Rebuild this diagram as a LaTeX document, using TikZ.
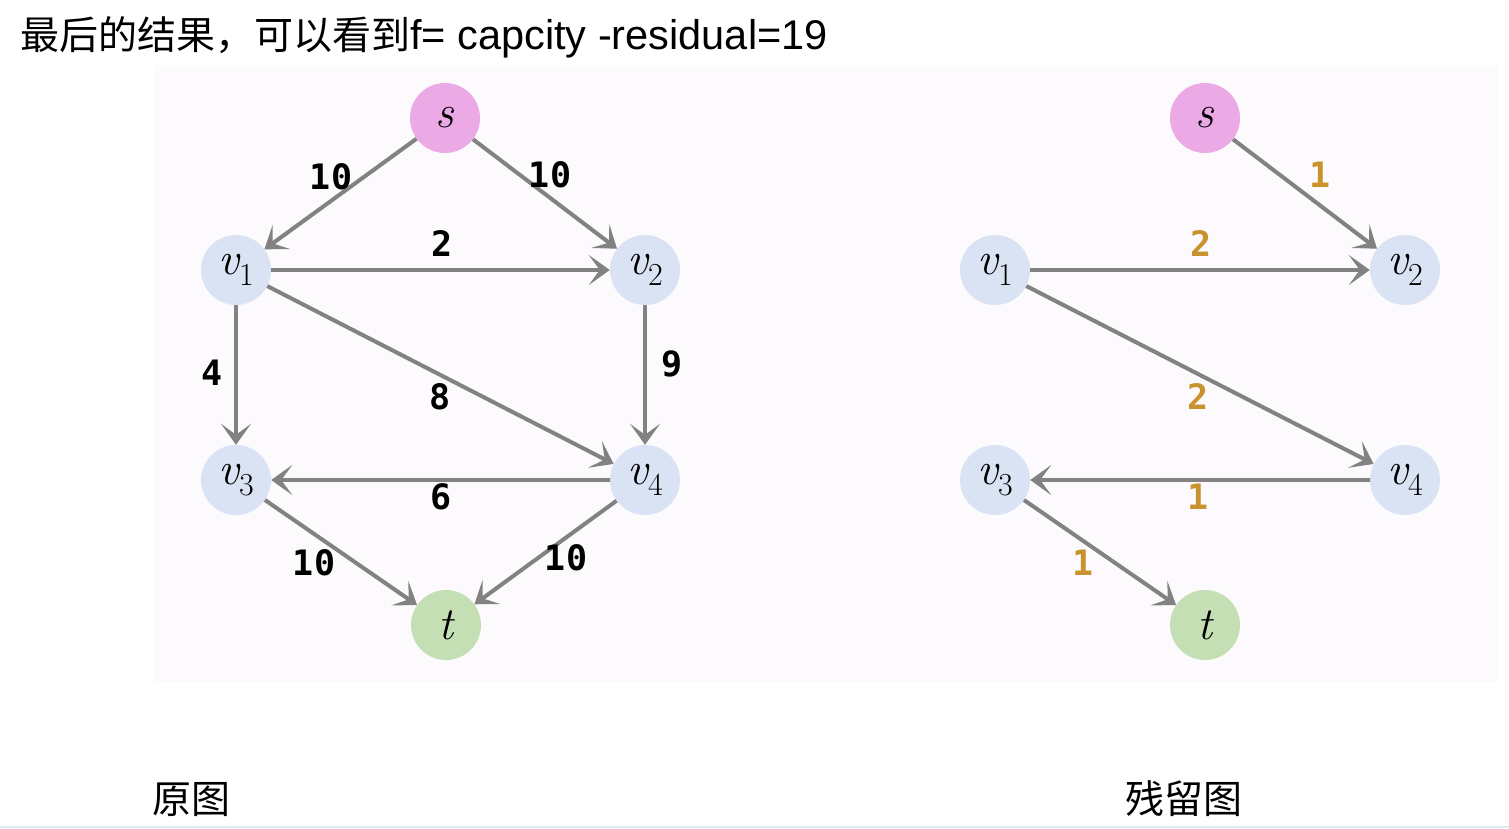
\documentclass[tikz,border=0pt]{standalone}
\usepackage{fontspec}
\setmainfont{Liberation Sans}
\newfontfamily\cjk{Noto Sans CJK SC}
\newfontfamily\labfont{DejaVu Sans Mono}
\newfontfamily\lmr{Latin Modern Roman}
\newcommand\vnode[1]{{\lmr\itshape v}\raisebox{-0.24em}{\lmr\upshape\fontsize{32}{32}\selectfont #1}}
\newcommand\inode[1]{{\lmr\itshape #1}}
\usetikzlibrary{arrows.meta}
\definecolor{spink}{HTML}{EBA9E6}
\definecolor{vblue}{HTML}{DAE3F3}
\definecolor{tgreen}{HTML}{C5DFB5}
\definecolor{egray}{HTML}{828282}
\definecolor{gold}{HTML}{C8932C}
\definecolor{panel}{HTML}{FDFAFD}
\definecolor{rule}{HTML}{E3E8F0}
\begin{document}
\begin{tikzpicture}[x=1pt,y=-1pt,
  vtx/.style={circle,minimum size=70pt,inner sep=0pt,font=\fontsize{46}{50}\selectfont},
  src/.style={vtx,fill=spink},
  mid/.style={vtx,fill=vblue},
  snk/.style={vtx,fill=tgreen},
  flow/.style={draw=egray,line width=4pt,-{Stealth[length=21pt,width=30pt,inset=11pt]}},
  caplabel/.style={font=\labfont\bfseries\fontsize{35}{40}\selectfont,text=black,inner sep=0pt},
  reslabel/.style={caplabel,text=gold},
  cjktext/.style={font=\cjk\fontsize{39}{44}\selectfont,inner sep=0pt}]
\useasboundingbox (0,0) rectangle (1509,828);
\fill[white] (0,0) rectangle (1509,828);
\fill[panel] (155,65) rectangle (1498,682);
\draw[rule,line width=2pt] (0,827) -- (1509,827);

% title
\node[anchor=base west,inner sep=0pt,font=\fontsize{39}{44}\selectfont] (title) at (20,49)
  {{\cjk 最后的结果，可以看到}{\fontsize{41.5}{46}\selectfont f= capcity -residual=19}};

% left graph
\node[src] (s) at (445,118) {\inode{s}};
\node[mid] (v1) at (236,270) {\vnode{1}};
\node[mid] (v2) at (645,270) {\vnode{2}};
\node[mid] (v3) at (236,480) {\vnode{3}};
\node[mid] (v4) at (645,480) {\vnode{4}};
\node[snk] (t) at (446,625) {\inode{t}};

\draw[flow] (s) -- (v1);
\draw[flow] (s) -- (v2);
\draw[flow] (v1) -- (v2);
\draw[flow] (v1) -- (v3);
\draw[flow] (v1) -- (v4);
\draw[flow] (v2) -- (v4);
\draw[flow] (v4) -- (v3);
\draw[flow] (v3) -- (t);
\draw[flow] (v4) -- (t);

\node[caplabel] (c1) at (331,177) {10};
\node[caplabel] (c2) at (550,175) {10};
\node[caplabel] (c3) at (442,244) {2};
\node[caplabel] (c4) at (212,373) {4};
\node[caplabel] (c5) at (440,397) {8};
\node[caplabel] (c6) at (672,364) {9};
\node[caplabel] (c7) at (441,497) {6};
\node[caplabel] (c8) at (314,563) {10};
\node[caplabel] (c9) at (566,558) {10};

% right graph
\node[src] (rs) at (1205,118) {\inode{s}};
\node[mid] (rv1) at (995,270) {\vnode{1}};
\node[mid] (rv2) at (1405,270) {\vnode{2}};
\node[mid] (rv3) at (995,480) {\vnode{3}};
\node[mid] (rv4) at (1405,480) {\vnode{4}};
\node[snk] (rt) at (1205,625) {\inode{t}};

\draw[flow] (rs) -- (rv2);
\draw[flow] (rv1) -- (rv2);
\draw[flow] (rv1) -- (rv4);
\draw[flow] (rv4) -- (rv3);
\draw[flow] (rv3) -- (rt);

\node[reslabel] (r1) at (1320,175) {1};
\node[reslabel] (r2) at (1201,244) {2};
\node[reslabel] (r3) at (1198,397) {2};
\node[reslabel] (r4) at (1198,497) {1};
\node[reslabel] (r5) at (1083,563) {1};

% captions
\node[cjktext,anchor=base west] (capl) at (152,813) {原图};
\node[cjktext,anchor=base west] (capr) at (1125,813) {残留图};
\end{tikzpicture}
\end{document}
